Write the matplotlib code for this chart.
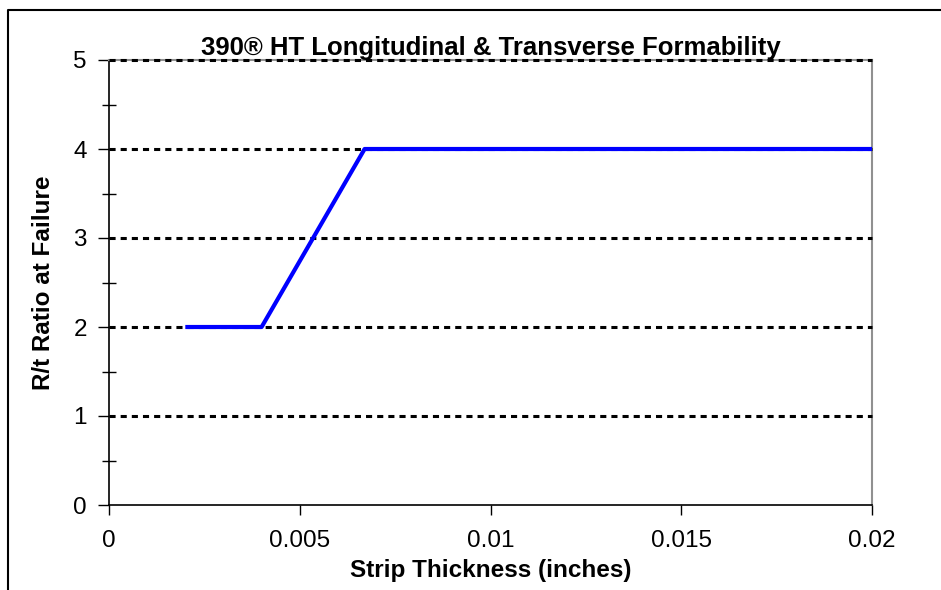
import matplotlib
matplotlib.use("Agg")
import matplotlib.pyplot as plt
from matplotlib.lines import Line2D
from matplotlib.ticker import MultipleLocator

# data
thickness = [0.002, 0.004, 0.0067, 0.02]
rt_ratio = [2, 2, 4, 4]
x_ticks = [0, 0.005, 0.01, 0.015, 0.02]
x_labels = ["0", "0.005", "0.01", "0.015", "0.02"]
y_ticks = [0, 1, 2, 3, 4, 5]

plt.rcParams["font.family"] = ["Liberation Sans", "DejaVu Sans"]

fig = plt.figure(figsize=(9.41, 5.90), dpi=100)
ax = fig.add_axes([109 / 941, 85 / 590, 763 / 941, 445 / 590])

# outer chart frame: only its left and top edges fall inside the picture
fx, fy = 8 / 941, (590 - 10) / 590
fig.lines.append(Line2D([fx, fx, 1.0], [0.0, fy, fy], transform=fig.transFigure,
                        color="black", lw=1.5))

for y in y_ticks[1:]:
    ax.axhline(y, color="black", lw=2.2, ls=(0, (2.0, 1.65)), zorder=4,
               clip_on=False)

ax.plot(thickness, rt_ratio, color="#0000ff", lw=3, zorder=5,
        solid_capstyle="butt", clip_on=False)

ax.set_xlim(0, 0.02)
ax.set_ylim(0, 5)
ax.set_xticks(x_ticks)
ax.set_xticklabels(x_labels)
ax.set_yticks(y_ticks)
ax.yaxis.set_minor_locator(MultipleLocator(0.5))
ax.tick_params(axis="x", which="major", direction="out", length=7,
               width=1, labelsize=17.5, pad=11)
ax.tick_params(axis="y", which="major", direction="out", length=8,
               width=1, labelsize=17.5, pad=8)
ax.tick_params(axis="y", which="minor", direction="inout", length=10, width=1)

for side in ("top", "right"):
    ax.spines[side].set_color("#909090")
    ax.spines[side].set_linewidth(1.5)
for side in ("left", "bottom"):
    ax.spines[side].set_color("black")
    ax.spines[side].set_linewidth(1.2)

ax.set_xlabel("Strip Thickness (inches)", fontsize=17.5, fontweight="bold",
              labelpad=5)
ax.set_ylabel("R/t Ratio at Failure", fontsize=17.5, fontweight="bold",
              labelpad=13)
ax.set_title("390® HT Longitudinal & Transverse Formability", fontsize=18.5,
             fontweight="bold", pad=1)

fig.savefig("out.png", dpi=100)
